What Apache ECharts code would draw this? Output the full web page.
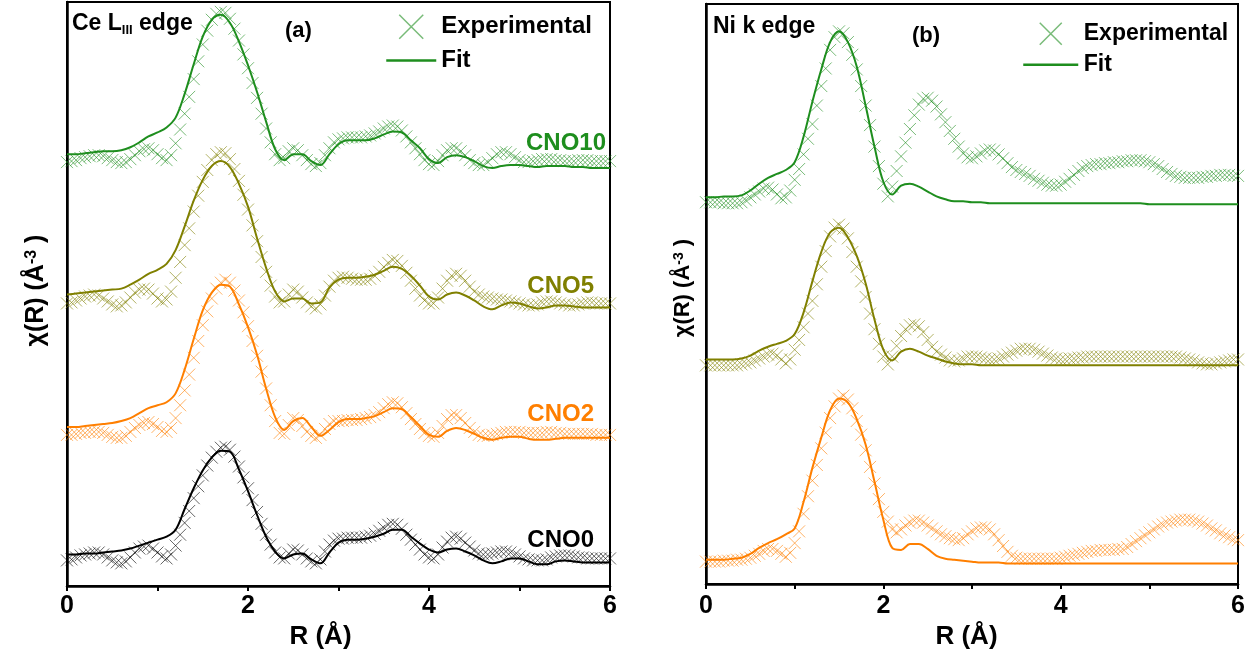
<!DOCTYPE html>
<html><head><meta charset="utf-8">
<script src="https://cdn.jsdelivr.net/npm/echarts@6/dist/echarts.min.js"></script>
<style>html,body{margin:0;padding:0;background:#fff}#c{width:1254px;height:655px}</style>
</head><body><div id="c"></div>
<script>
// sampling grids (R in Å)
const R_EXP = Array.from({length:121},(_,i)=>+(i*0.05).toFixed(2));
const R_FIT = Array.from({length:61},(_,i)=>+(i*0.1).toFixed(1));
const X_TICKS = [0,2,4,6];

// ---- panel (a): Ce L_III edge (curves stacked with offsets, arbitrary units) ----
const A_CNO10_EXP = [429,430,431,433,434,435,436,436,435,433, 431,429,428,429,432,436,440,442,443,441,
 437,433,431,436,448,462,478,495,513,531, 548,562,573,579,581,580,574,564,552,538,
 524,509,494,478,463,449,437,431,433,440, 443,441,436,431,427,425,428,436,443,449,
 452,453,454,454,454,454,455,456,458,460, 463,465,466,465,461,455,449,443,437,431,
 427,426,430,436,441,443,443,440,436,431, 428,426,426,429,433,437,439,439,437,434,
 431,429,429,430,431,432,432,432,431,431, 430,430,430,431,431,431,430,430,430,430, 430];
const A_CNO10_FIT = [437,437,438,439,440,440,441,444,449,455, 459,464,474,498,528,556,573,578,570,551,
 527,500,470,442,431,437,437,430,426,437, 447,451,451,451,453,457,460,459,451,443,
 432,428,434,436,434,430,425,423,425,426, 426,425,424,425,425,425,424,424,423,423, 423];

const A_CNO5_EXP = [286,287,289,291,293,294,295,294,291,288, 285,283,284,287,292,297,300,301,300,296,
 291,288,290,298,312,328,345,362,379,395, 409,421,431,437,439,438,432,422,410,396,
 381,365,349,333,318,304,293,287,288,295, 300,298,292,287,283,281,285,294,303,309,
 312,313,312,311,310,310,310,311,314,318, 323,327,330,329,324,317,309,301,294,289,
 286,286,292,301,309,314,316,314,309,303, 298,295,293,292,291,290,290,289,288,287,
 286,285,284,284,285,287,288,288,287,286, 285,284,284,285,286,287,287,286,286,286, 286];
const A_CNO5_FIT = [295,296,297,298,299,300,301,305,310,316, 320,326,340,364,390,411,425,430,424,407,
 384,352,322,298,288,291,291,286,287,302, 310,312,312,313,315,319,323,321,314,304,
 293,290,295,297,294,289,283,280,284,287, 286,283,281,282,284,284,283,282,282,282, 282];

const A_CNO2_EXP = [153,153,154,155,155,156,156,156,155,153, 151,150,150,152,156,160,163,165,166,164,
 161,157,156,160,170,183,198,214,231,248, 264,278,291,301,307,310,307,299,289,277,
 263,248,233,217,200,183,167,155,154,163, 170,168,162,156,152,150,153,159,164,167,
 167,167,168,168,168,169,170,171,173,176, 180,184,186,185,181,175,169,164,159,155,
 152,151,155,162,169,173,173,170,165,160, 156,153,152,152,153,154,155,156,156,156,
 156,155,155,155,155,155,156,156,155,155, 154,154,154,154,154,154,154,153,153,153, 153];
const A_CNO2_FIT = [161,161,162,163,164,165,167,170,175,180, 183,186,195,219,250,279,297,305,303,285,
 262,234,200,171,158,167,170,161,152,158, 166,169,169,170,172,176,180,179,171,162,
 153,151,157,160,158,154,150,148,150,151, 151,149,148,148,149,150,150,150,150,150, 150];

const A_CNO0_EXP = [26,27,29,31,32,33,34,34,32,29, 26,24,23,25,29,34,38,40,41,38,
 34,30,28,32,41,52,64,76,89,101, 112,122,130,136,140,141,138,131,121,110,
 99,87,75,63,52,42,34,29,28,33, 37,36,32,28,25,23,27,35,42,46,
 48,48,49,49,49,49,50,51,53,56, 59,62,63,62,58,52,47,42,37,32,
 29,28,32,39,45,49,50,48,44,40, 36,33,32,32,33,34,35,35,34,32,
 30,28,27,26,26,26,27,29,30,31, 31,31,30,29,29,28,28,28,28,28, 28];
const A_CNO0_FIT = [32,32,33,33,34,35,36,38,41,44, 47,50,57,78,99,117,130,137,136,118,
 96,72,50,35,28,32,33,27,23,34, 44,47,47,48,50,53,57,57,50,43,
 37,34,37,38,35,31,26,23,25,28, 28,25,22,22,25,26,25,24,24,24, 24];

// ---- panel (b): Ni k edge ----
const B_CNO10_EXP = [391,391,391,391,390,390,390,390,391,393, 396,399,402,405,406,404,399,395,396,403,
 414,425,440,456,471,490,510,528,547,560, 566,564,555,542,527,510,490,470,448,428,
 410,397,407,423,438,452,466,480,491,497, 498,495,489,481,473,464,456,448,441,437,
 436,438,441,444,445,444,440,436,431,427, 424,422,420,418,415,413,411,409,408,408,
 409,412,415,419,423,426,428,429,430,430, 431,431,432,432,433,433,434,434,434,433,
 432,430,428,425,422,420,418,417,416,416, 416,416,417,417,418,418,419,419,419,418, 418];
const B_CNO10_FIT = [396,396,397,397,398,403,410,416,420,424, 432,458,494,527,555,566,555,530,490,448,
 412,399,408,410,407,402,397,394,392,392, 391,391,390,390,390,390,390,390,390,390,
 390,390,390,390,390,390,390,390,390,390, 389,389,389,389,389,389,389,389,389,389, 389];

const B_CNO5_EXP = [224,224,224,224,224,224,224,224,225,226, 227,229,231,233,235,236,234,230,226,230,
 240,250,263,277,290,307,325,341,356,365, 368,364,354,340,325,310,294,277,261,246,
 233,225,233,244,254,261,265,266,264,258, 250,243,238,235,232,229,228,229,231,233,
 233,233,232,231,230,230,231,233,235,237, 239,241,241,241,240,238,236,234,232,231,
 230,230,231,231,232,232,233,233,233,233, 233,233,233,233,233,233,233,233,233,233,
 233,233,233,233,233,233,233,232,231,230, 229,227,226,225,225,226,227,228,229,230, 230];
const B_CNO5_FIT = [230,230,230,230,231,234,239,243,246,249, 256,278,310,340,360,365,355,336,308,271,
 240,229,238,241,238,234,231,228,226,225, 225,224,224,224,224,224,224,224,224,224,
 224,224,224,224,224,224,224,224,224,224, 224,224,224,224,224,224,224,224,224,224, 224];

const B_CNO2_EXP = [23,23,23,23,24,24,24,25,25,26, 27,29,31,34,36,36,34,31,28,32,
 42,54,72,90,106,122,139,155,170,182, 190,193,189,180,167,153,137,120,103,87,
 74,64,56,53,56,60,63,65,65,63, 60,57,54,51,49,47,46,45,47,51,
 54,57,58,58,56,51,45,39,33,29, 27,26,26,26,26,26,26,26,26,26,
 27,28,29,30,31,32,33,34,34,35, 35,35,35,36,36,38,41,44,47,50,
 53,56,59,61,63,64,65,66,66,66, 65,64,62,60,57,55,52,50,48,46, 45];
const B_CNO2_FIT = [25,25,25,26,27,31,37,42,46,51, 57,84,119,150,178,190,186,169,143,105,
 66,37,35,41,41,36,29,26,25,24, 23,22,22,22,21,21,21,21,21,21,
 21,21,21,21,21,21,21,21,21,21, 21,21,21,21,21,21,21,21,21,21, 21];

const SAMPLE_LABELS = ['CNO10','CNO5','CNO2','CNO0'];
const PANEL_TITLES = ['Ce L_III edge','Ni k edge'];
const PANEL_TAGS = ['(a)','(b)'];

const COLORS = {CNO10:'#1E8E1E', CNO5:'#808000', CNO2:'#FF7F00', CNO0:'#000000'};
const FONT = '"Liberation Sans", Arial, Helvetica, sans-serif';
const X_PATH = 'path://M0,0L10,10M10,0L0,10';
const FIT_ICON = 'path://M0,0L0,0M0,10L50,10M0,20L0,20';

function pairs(xs, ys){ return ys.map((y,i)=>[xs[i], y]); }
function expS(data, color, gi){
  return {name:'Experimental', type:'scatter', xAxisIndex:gi, yAxisIndex:gi, data:pairs(R_EXP,data),
    symbol:X_PATH, symbolSize:12,
    itemStyle:{color:'rgba(0,0,0,0)', borderColor:color, borderWidth:1, opacity:0.6},
    emphasis:{disabled:true}, silent:true, z:2};
}
function fitS(data, color, gi){
  return {name:'Fit', type:'line', xAxisIndex:gi, yAxisIndex:gi, data:pairs(R_FIT,data),
    smooth:0.35, symbol:'none', showSymbol:false, lineStyle:{color:color, width:2}, itemStyle:{color:color},
    emphasis:{disabled:true}, silent:true, z:3};
}
function xAx(gi, fs, margin, nameGap, namePad){
  return {gridIndex:gi, type:'value', min:0, max:6, interval:1,
    axisLine:{onZero:false, lineStyle:{color:'#000', width:2.5}},
    axisTick:{inside:false, length:5, lineStyle:{color:'#000', width:2}},
    splitLine:{show:false},
    axisLabel:{formatter:v=>X_TICKS.indexOf(v)>=0?String(v):'', fontSize:fs, fontWeight:'bold', color:'#000', margin:margin, fontFamily:FONT},
    name:'R (Å)', nameLocation:'middle', nameGap:nameGap,
    nameTextStyle:{fontSize:26, fontWeight:'bold', color:'#000', fontFamily:FONT, padding:namePad}};
}
function yAx(gi, max, fs, nameGap, namePad){
  return {gridIndex:gi, type:'value', min:0, max:max,
    axisLine:{show:true, onZero:false, lineStyle:{color:'#000', width:2.5}},
    axisTick:{show:false}, axisLabel:{show:false}, splitLine:{show:false},
    name:'{n|χ(R) (Å}{s|-3}{n| )}', nameLocation:'middle', nameRotate:90, nameGap:nameGap,
    nameTextStyle:{padding:namePad, rich:{
      n:{fontSize:fs, fontWeight:'bold', color:'#000', fontFamily:FONT},
      s:{fontSize:Math.round(fs*0.65), fontWeight:'bold', color:'#000', fontFamily:FONT, verticalAlign:'top'}}}};
}
function legendCfg(left, top, w, h, gap, fs){
  return {left:left, top:top, orient:'vertical', itemWidth:w, itemHeight:h, itemGap:gap, padding:0,
    selectedMode:false,
    textStyle:{fontSize:fs, fontWeight:'bold', color:'#000', fontFamily:FONT},
    data:[{name:'Experimental', icon:X_PATH, itemStyle:{color:'rgba(0,0,0,0)', borderColor:COLORS.CNO10, borderWidth:1.5}},
          {name:'Fit', icon:FIT_ICON, itemStyle:{color:'rgba(0,0,0,0)', borderColor:COLORS.CNO10, borderWidth:2.5}}]};
}
function txt(x, y, text, color, fs, align){
  return {type:'text', x:x, y:y, silent:true, z:10,
    style:{text:text, fill:color, font:'bold '+fs+'px '+FONT, textAlign:align||'left', textVerticalAlign:'middle', align:align||'left', verticalAlign:'middle'}};
}
function richTitle(x, y, text, fs){
  const parts = text.split('_');
  const sub = parts.length>1 ? parts[1].split(' ')[0] : '';
  const rest = parts.length>1 ? parts[1].slice(sub.length) : '';
  const str = parts.length>1 ? '{a|'+parts[0]+'}{b|'+sub+'}{a|'+rest+'}' : '{a|'+text+'}';
  return {type:'text', x:x, y:y, silent:true, z:10,
    style:{text:str, textVerticalAlign:'middle', verticalAlign:'middle',
      rich:{a:{fontSize:fs, fontWeight:'bold', fontFamily:FONT, fill:'#000', color:'#000', lineHeight:fs+2},
            b:{fontSize:Math.round(fs*0.55), fontWeight:'bold', fontFamily:FONT, fill:'#000', color:'#000', verticalAlign:'bottom', lineHeight:fs+2}}}};
}

const series = [
  expS(A_CNO10_EXP, COLORS.CNO10, 0), fitS(A_CNO10_FIT, COLORS.CNO10, 0),
  expS(A_CNO5_EXP, COLORS.CNO5, 0),  fitS(A_CNO5_FIT, COLORS.CNO5, 0),
  expS(A_CNO2_EXP, COLORS.CNO2, 0),  fitS(A_CNO2_FIT, COLORS.CNO2, 0),
  expS(A_CNO0_EXP, COLORS.CNO0, 0),  fitS(A_CNO0_FIT, COLORS.CNO0, 0),
  expS(B_CNO10_EXP, COLORS.CNO10, 1), fitS(B_CNO10_FIT, COLORS.CNO10, 1),
  expS(B_CNO5_EXP, COLORS.CNO5, 1),  fitS(B_CNO5_FIT, COLORS.CNO5, 1),
  expS(B_CNO2_EXP, COLORS.CNO2, 1),  fitS(B_CNO2_FIT, COLORS.CNO2, 1)
];

const chart = echarts.init(document.getElementById('c'), null, {renderer:'canvas'});
chart.setOption({
  animation:false,
  backgroundColor:'#fff',
  grid:[
    {left:67, top:2, width:543, height:591, show:true, borderColor:'#000', borderWidth:2, backgroundColor:'rgba(0,0,0,0)'},
    {left:706, top:4, width:532, height:594, show:true, borderColor:'#000', borderWidth:2, backgroundColor:'rgba(0,0,0,0)'}
  ],
  xAxis:[xAx(0, 25, 8, 25, [0,36,0,0]), xAx(1, 25, 10, 28, [0,11,0,0])],
  yAxis:[yAx(0, 591, 25, 18, [0,0,0,7]), yAx(1, 594, 22, 12, [0,0,0,12])],
  legend:[legendCfg(385, 14, 50, 24, 9, 24), legendCfg(1022, 22, 56, 22, 7, 23)],
  series:series,
  graphic:[
    richTitle(72, 24, PANEL_TITLES[0], 23),
    txt(285, 31, PANEL_TAGS[0], '#000', 22),
    richTitle(713, 27, PANEL_TITLES[1], 23),
    txt(912, 36, PANEL_TAGS[1], '#000', 22),
    txt(606, 143, SAMPLE_LABELS[0], COLORS.CNO10, 24, 'right'),
    txt(594, 286, SAMPLE_LABELS[1], COLORS.CNO5, 24, 'right'),
    txt(594, 414, SAMPLE_LABELS[2], COLORS.CNO2, 24, 'right'),
    txt(594, 540, SAMPLE_LABELS[3], COLORS.CNO0, 24, 'right')
  ]
});
</script>
</body></html>
